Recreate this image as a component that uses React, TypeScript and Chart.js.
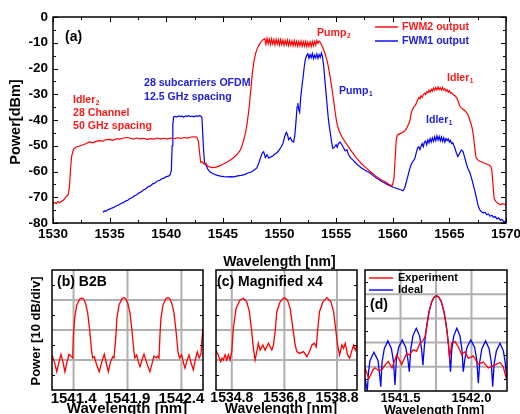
import React, { useEffect, useRef } from "react";
import { Chart, registerables } from "chart.js";
Chart.register(...registerables);

const FONT = '"Liberation Sans", Arial, Helvetica, sans-serif';
const RED = "#ff0000";
const BLUE = "#0000ff";
const RED_TXT = "#ff1a1a";
const BLUE_TXT = "#2121dd";
const GRID = "#b0b0b0";

// ---------------- data ----------------
const mainXTicks = [1530, 1535, 1540, 1545, 1550, 1555, 1560, 1565, 1570];
const mainYTicks = [0, -10, -20, -30, -40, -50, -60, -70, -80];

// FWM2 output (red), [wavelength nm, power dBm]
const fwm2Output: [number, number][] = [
  [1530.0, -72.5], [1530.15, -72.0], [1530.3, -72.4], [1530.45, -71.7], [1530.6, -72.1], [1530.75, -71.6],
  [1530.9, -71.2], [1531.05, -70.4], [1531.2, -69.6], [1531.35, -69.0], [1531.45, -66], [1531.55, -59],
  [1531.65, -54], [1531.8, -51.5], [1532.0, -50.6], [1532.3, -50.2], [1532.6, -49.7], [1532.9, -49.2],
  [1533.2, -48.5], [1533.5, -48.9], [1533.8, -48.3], [1534.1, -48.0], [1534.4, -48.2], [1534.7, -47.6],
  [1535.0, -47.5], [1535.3, -47.9], [1535.6, -47.3], [1535.9, -47.4], [1536.2, -47.1], [1536.5, -46.8],
  [1536.8, -47.0], [1537.1, -47.4], [1537.4, -47.0], [1537.7, -47.3], [1538.0, -47.1], [1538.3, -47.5],
  [1538.6, -47.2], [1538.9, -47.4], [1539.2, -47.0], [1539.5, -47.3], [1539.8, -47.1], [1540.1, -47.4],
  [1540.4, -47.0], [1540.7, -47.2], [1541.0, -46.9], [1541.3, -47.1], [1541.6, -46.8], [1541.9, -47.0],
  [1542.2, -46.6], [1542.5, -46.5], [1542.7, -46.7], [1542.85, -48.5], [1542.95, -53], [1543.05, -56.5],
  [1543.2, -56.2], [1543.35, -57.2], [1543.5, -56.8], [1543.65, -57.9], [1543.8, -58.2], [1544.1, -58.5],
  [1544.4, -58.3], [1544.7, -57.8], [1545.0, -57.2], [1545.3, -56.5], [1545.6, -55.7], [1545.9, -54.8],
  [1546.2, -53.6], [1546.5, -52.0], [1546.7, -50], [1546.85, -47.5], [1547.0, -45], [1547.15, -41],
  [1547.3, -36], [1547.45, -29], [1547.6, -22], [1547.75, -17], [1547.9, -14], [1548.05, -12],
  [1548.2, -10.8], [1548.35, -9.8], [1548.5, -9.0], [1548.6, -8.7],
  [1548.7, -8.4], [1548.8, -10.6], [1548.9, -8.3], [1549.0, -10.4], [1549.1, -8.6], [1549.2, -10.7],
  [1549.3, -8.5], [1549.4, -10.5], [1549.5, -8.8], [1549.6, -10.8], [1549.7, -8.7], [1549.8, -10.6],
  [1549.9, -8.9], [1550.0, -10.9], [1550.1, -8.8], [1550.2, -10.7], [1550.3, -9.0], [1550.4, -11.0],
  [1550.5, -9.1], [1550.6, -10.8], [1550.7, -9.0], [1550.8, -11.1], [1550.9, -9.2], [1551.0, -11.0],
  [1551.1, -9.3], [1551.2, -11.2], [1551.3, -9.2], [1551.4, -11.1], [1551.5, -9.4], [1551.6, -11.3],
  [1551.7, -9.5], [1551.8, -11.2], [1551.9, -9.4], [1552.0, -11.4], [1552.1, -9.6], [1552.2, -11.3],
  [1552.3, -9.5], [1552.4, -11.5], [1552.5, -9.7], [1552.6, -11.4], [1552.7, -9.6], [1552.8, -11.5],
  [1552.9, -9.5], [1553.0, -11.2], [1553.1, -9.4], [1553.2, -10.9], [1553.3, -9.1], [1553.4, -10.2],
  [1553.5, -9.3], [1553.6, -9.8], [1553.7, -10.8], [1553.8, -11.5], [1553.9, -12.8], [1554.0, -14],
  [1554.1, -15.5], [1554.2, -17], [1554.3, -19], [1554.4, -21.5], [1554.5, -24], [1554.6, -27],
  [1554.7, -30], [1554.8, -33], [1554.9, -36.5], [1555.0, -39.5], [1555.1, -42], [1555.25, -44],
  [1555.5, -46.5], [1555.75, -48.2], [1556.0, -49.8], [1556.25, -51.5], [1556.5, -53], [1556.75, -54.5],
  [1557.0, -55.8], [1557.25, -57], [1557.5, -58], [1557.75, -59], [1558.0, -60], [1558.25, -60.9],
  [1558.5, -61.8], [1558.75, -62.6], [1559.0, -63.3], [1559.25, -63.8], [1559.5, -64.5], [1559.75, -65.2],
  [1559.95, -65.6], [1560.1, -63], [1560.2, -56], [1560.3, -48], [1560.4, -45.8], [1560.6, -45.4],
  [1560.8, -45.0], [1561.0, -44.5], [1561.2, -43.5], [1561.35, -42], [1561.5, -40.5], [1561.6, -38],
  [1561.7, -36.3], [1561.85, -35], [1562.0, -34.3], [1562.1, -33.3], [1562.2, -32.2], [1562.3, -31.3],
  [1562.4, -31.8], [1562.5, -30.6], [1562.6, -31.2], [1562.7, -30.2], [1562.8, -29.6], [1562.9, -30.1],
  [1563.0, -29.0], [1563.1, -29.4], [1563.2, -28.4], [1563.3, -29.2], [1563.4, -28.1], [1563.5, -28.8],
  [1563.6, -27.6], [1563.7, -28.5], [1563.8, -27.4], [1563.9, -28.3], [1564.0, -27.2], [1564.1, -28.2],
  [1564.2, -27.5], [1564.3, -28.4], [1564.4, -27.3], [1564.5, -28.3], [1564.6, -27.9], [1564.7, -28.8],
  [1564.8, -28.2], [1564.9, -29.2], [1565.0, -28.6], [1565.1, -29.6], [1565.2, -29.3], [1565.35, -30.2],
  [1565.5, -30.6], [1565.65, -31.4], [1565.8, -33], [1565.9, -34.5], [1566.05, -35.3], [1566.2, -35.8],
  [1566.35, -36.3], [1566.5, -37], [1566.65, -38], [1566.8, -40], [1566.95, -42], [1567.05, -44],
  [1567.15, -47], [1567.25, -51], [1567.35, -54.5], [1567.5, -55.5], [1567.7, -56], [1567.9, -56.3],
  [1568.1, -56.8], [1568.3, -57.1], [1568.5, -57.5], [1568.65, -58], [1568.75, -59.5], [1568.85, -65],
  [1568.95, -70.5], [1569.1, -71.6], [1569.3, -72.3], [1569.5, -72.9], [1569.7, -72.5], [1569.85, -72.8],
  [1570.0, -72.6],
];

// FWM1 output (blue)
const fwm1Output: [number, number][] = [
  [1534.4, -75.8], [1534.55, -75.3], [1534.7, -75.4], [1534.85, -74.8], [1535.0, -74.6], [1535.2, -74.2],
  [1535.4, -73.9], [1535.6, -73.3], [1535.8, -73.0], [1536.0, -72.4], [1536.2, -72.1], [1536.4, -71.5],
  [1536.6, -71.2], [1536.8, -70.5], [1537.0, -70.1], [1537.2, -69.4], [1537.4, -69.0], [1537.6, -68.3],
  [1537.8, -67.9], [1538.0, -67.2], [1538.2, -66.7], [1538.4, -65.9], [1538.6, -65.6], [1538.8, -64.8],
  [1539.0, -64.5], [1539.2, -63.7], [1539.4, -63.5], [1539.6, -62.8], [1539.8, -62.6], [1540.0, -62.0],
  [1540.2, -61.8], [1540.35, -61.2], [1540.45, -59.5], [1540.52, -50], [1540.58, -42], [1540.65, -38.8],
  [1540.8, -38.6], [1540.95, -38.9], [1541.1, -38.4], [1541.25, -38.7], [1541.4, -38.5], [1541.55, -38.9],
  [1541.7, -38.4], [1541.85, -38.6], [1542.0, -38.3], [1542.15, -38.7], [1542.3, -38.5], [1542.45, -38.8],
  [1542.6, -38.4], [1542.75, -38.6], [1542.9, -38.3], [1543.05, -38.5], [1543.15, -39], [1543.22, -45],
  [1543.3, -52], [1543.38, -56.5], [1543.5, -57.5], [1543.7, -59.3], [1543.9, -60.3], [1544.2, -61.0],
  [1544.5, -61.5], [1544.8, -61.8], [1545.1, -62.0], [1545.4, -62.1], [1545.7, -62.0], [1546.0, -62.1],
  [1546.3, -61.7], [1546.6, -61.5], [1546.9, -61.2], [1547.2, -60.6], [1547.5, -60.2], [1547.8, -59.3],
  [1548.0, -58.6], [1548.15, -57], [1548.3, -55], [1548.45, -53], [1548.6, -52.3], [1548.75, -54.6],
  [1548.9, -53.5], [1549.05, -54.8], [1549.2, -54.4], [1549.4, -54.0], [1549.6, -53.2], [1549.8, -52.6],
  [1550.0, -51.5], [1550.15, -50.4], [1550.3, -49.2], [1550.45, -46.5], [1550.6, -44.8], [1550.7, -45.5],
  [1550.8, -47.6], [1550.95, -46.8], [1551.1, -48.2], [1551.25, -48.6], [1551.35, -46], [1551.45, -41],
  [1551.55, -35], [1551.62, -33.4], [1551.7, -36], [1551.78, -37], [1551.88, -31], [1551.98, -27],
  [1552.08, -23.5], [1552.18, -19.5], [1552.28, -16.5], [1552.4, -15.0], [1552.5, -14.3], [1552.6, -16.0],
  [1552.7, -14.6], [1552.8, -15.8], [1552.9, -14.2], [1553.0, -16.2], [1553.1, -14.8], [1553.2, -15.9],
  [1553.3, -14.4], [1553.4, -16.1], [1553.5, -14.6], [1553.6, -15.7], [1553.7, -14.0], [1553.8, -15.5],
  [1553.9, -19], [1554.0, -24], [1554.1, -29], [1554.2, -34], [1554.3, -39], [1554.4, -42.5],
  [1554.5, -45.5], [1554.6, -48.5], [1554.7, -51], [1554.8, -50.8], [1554.9, -50.2], [1555.0, -49.6],
  [1555.1, -50.6], [1555.2, -49.2], [1555.35, -48.6], [1555.5, -49.5], [1555.65, -50.8], [1555.8, -52],
  [1555.95, -51.5], [1556.1, -53.5], [1556.3, -54.8], [1556.5, -55.6], [1556.75, -56.8], [1557.0, -57.8],
  [1557.25, -58.6], [1557.5, -59.3], [1557.75, -60], [1558.0, -60.6], [1558.25, -61.5], [1558.5, -62.3],
  [1558.75, -63], [1559.0, -63.8], [1559.25, -64.4], [1559.5, -65], [1559.75, -65.5], [1560.0, -66],
  [1560.25, -66.4], [1560.5, -66.8], [1560.75, -67.2], [1560.9, -67.5], [1561.05, -66.5], [1561.2, -64],
  [1561.35, -61.5], [1561.5, -59], [1561.65, -57], [1561.8, -56], [1561.95, -55], [1562.1, -52.3],
  [1562.2, -50.8], [1562.3, -50.4], [1562.4, -51.5], [1562.5, -50.2], [1562.6, -49.2], [1562.7, -50.4],
  [1562.8, -48.6], [1562.9, -48.2], [1563.0, -49.6], [1563.1, -47.8], [1563.2, -48.9], [1563.3, -47.2],
  [1563.4, -48.5], [1563.5, -46.9], [1563.6, -48.3], [1563.7, -46.5], [1563.8, -48.0], [1563.9, -46.2],
  [1564.0, -47.8], [1564.1, -46.4], [1564.2, -48.1], [1564.3, -46.6], [1564.4, -48.3], [1564.5, -46.9],
  [1564.6, -48.6], [1564.7, -47.2], [1564.8, -48.0], [1564.9, -47.3], [1565.0, -48.6], [1565.1, -47.9],
  [1565.2, -49.2], [1565.3, -48.8], [1565.45, -50.5], [1565.6, -52.5], [1565.75, -54.2], [1565.9, -53],
  [1566.05, -51.6], [1566.2, -52.2], [1566.35, -54.5], [1566.5, -57], [1566.65, -59], [1566.8, -60.3],
  [1566.95, -62.5], [1567.1, -65], [1567.25, -67.5], [1567.4, -70.5], [1567.55, -73.5], [1567.7, -75],
  [1567.85, -75.6], [1568.0, -76.1], [1568.15, -75.8], [1568.3, -76.8], [1568.45, -76.5], [1568.6, -77.4],
  [1568.75, -77.0], [1568.9, -77.8], [1569.05, -77.5], [1569.2, -78.4], [1569.35, -78.0], [1569.5, -78.9],
  [1569.65, -78.6], [1569.8, -79.5], [1570.0, -79.3],
];

// (b) B2B
const b2bTicks = [1541.4, 1541.9, 1542.4];
const b2bSpectrum: [number, number][] = [
  [1541.2, -28.3], [1541.223, -30.7], [1541.244, -33.9], [1541.265, -30.7], [1541.283, -28.1], [1541.302, -30.7],
  [1541.32, -33.9], [1541.339, -30.7], [1541.358, -28.1], [1541.376, -28.7], [1541.392, -29.3], [1541.399, -21.7],
  [1541.41, -16], [1541.429, -11.7], [1541.457, -9.7], [1541.475, -9.3], [1541.494, -9.7], [1541.512, -11.3],
  [1541.531, -14.3], [1541.549, -20], [1541.568, -27.3], [1541.577, -29.3], [1541.592, -28.9], [1541.615, -31.7],
  [1541.638, -33.9], [1541.661, -30.7], [1541.685, -28.1], [1541.703, -31], [1541.722, -33.9], [1541.742, -30.7],
  [1541.763, -28.9], [1541.775, -29.3], [1541.784, -29.3], [1541.793, -21.7], [1541.802, -16], [1541.821, -11.7],
  [1541.849, -9.5], [1541.867, -9.2], [1541.886, -9.7], [1541.904, -11.3], [1541.923, -14.3], [1541.941, -20],
  [1541.96, -27.3], [1541.969, -29.3], [1541.985, -28.3], [1542.001, -30.7], [1542.016, -32.2], [1542.034, -30],
  [1542.053, -28], [1542.081, -31.3], [1542.108, -33.9], [1542.127, -31.3], [1542.145, -28.7], [1542.169, -29.3],
  [1542.182, -28.7], [1542.192, -29.3], [1542.201, -21.7], [1542.21, -16], [1542.229, -11.7], [1542.257, -9.5],
  [1542.275, -9.2], [1542.294, -9.7], [1542.312, -11.3], [1542.331, -14.3], [1542.349, -20], [1542.368, -27.3],
  [1542.382, -29.3], [1542.402, -28.3], [1542.417, -30.7], [1542.433, -32.7], [1542.451, -30.3], [1542.47, -28.3],
  [1542.49, -31], [1542.51, -33.3], [1542.528, -30], [1542.547, -27.3], [1542.565, -29.3], [1542.581, -28],
  [1542.59, -23.3], [1542.6, -19.3],
];

// (c) Magnified x4
const magTicks = [1534.8, 1536.8, 1538.8];
const magSpectrum: [number, number][] = [
  [1534.2, -26.7], [1534.25, -27.8], [1534.288, -28.3], [1534.33, -29.6], [1534.379, -30.6], [1534.43, -29.4],
  [1534.478, -30], [1534.543, -28.3], [1534.608, -30], [1534.669, -28.3], [1534.733, -30], [1534.798, -27.2],
  [1534.859, -19.4], [1534.962, -12.8], [1535.114, -10], [1535.24, -9.4], [1535.37, -10.6], [1535.469, -13.9],
  [1535.56, -20.6], [1535.621, -26.1], [1535.686, -30], [1535.75, -27.2], [1535.811, -24.4], [1535.876, -26.7],
  [1535.979, -25], [1536.067, -26.7], [1536.192, -24.4], [1536.322, -26.7], [1536.383, -25], [1536.448, -20.6],
  [1536.512, -13.9], [1536.638, -10.6], [1536.79, -9.2], [1536.916, -10], [1537.019, -12.8], [1537.122, -19.4],
  [1537.21, -25], [1537.274, -27.2], [1537.373, -27.8], [1537.526, -27.2], [1537.655, -28.9], [1537.754, -27.2],
  [1537.846, -25], [1537.933, -24.4], [1538.01, -25.6], [1538.059, -20.6], [1538.135, -13.9], [1538.265, -10.6],
  [1538.417, -9.2], [1538.57, -10.6], [1538.669, -13.9], [1538.745, -19.4], [1538.821, -25], [1538.897, -28.3],
  [1538.989, -25], [1539.05, -26.1], [1539.114, -24.4], [1539.202, -28.3], [1539.278, -29.4], [1539.37, -26.7],
  [1539.43, -25], [1539.495, -26.7], [1539.56, -25],
];

// (d) Experiment vs Ideal
const dTicks = [1541.5, 1541.75, 1542.0];
const dExperiment: [number, number][] = [
  [1541.25, -40.6], [1541.278, -44.8], [1541.306, -41.3], [1541.32, -40.4], [1541.345, -41.5], [1541.368, -41.3],
  [1541.391, -39.3], [1541.414, -37.8], [1541.44, -40.5], [1541.473, -35.1], [1541.496, -37.5], [1541.508, -39],
  [1541.544, -34.4], [1541.562, -35.1], [1541.59, -33], [1541.614, -33.5], [1541.637, -30.3], [1541.658, -29.3],
  [1541.673, -27.5], [1541.685, -23.4], [1541.701, -17.2], [1541.72, -13.1], [1541.736, -11.3], [1541.754, -10.6],
  [1541.771, -11.3], [1541.787, -13.1], [1541.806, -17.2], [1541.817, -21], [1541.827, -25], [1541.838, -31],
  [1541.846, -36.4], [1541.861, -30.2], [1541.884, -29.6], [1541.907, -31.7], [1541.931, -35], [1541.954, -33.8],
  [1541.977, -36.5], [1542.013, -35.5], [1542.048, -39], [1542.083, -38], [1542.118, -40.5], [1542.154, -39.5],
  [1542.201, -38.2], [1542.224, -40], [1542.248, -45.5],
];
const dIdeal: [number, number][] = [
  [1541.25, -44.6], [1541.266, -50], [1541.275, -42], [1541.285, -37.5], [1541.313, -34], [1541.342, -37.5],
  [1541.351, -42], [1541.361, -48.2], [1541.37, -38], [1541.386, -32.5], [1541.411, -29.3], [1541.436, -32.5],
  [1541.451, -38], [1541.461, -47.5], [1541.471, -37], [1541.487, -32], [1541.512, -28.9], [1541.537, -32],
  [1541.552, -37], [1541.562, -42], [1541.572, -33], [1541.587, -27.3], [1541.611, -24.1], [1541.635, -27.3],
  [1541.649, -33], [1541.658, -39.3], [1541.662, -36], [1541.669, -31], [1541.68, -25], [1541.69, -21],
  [1541.701, -17.2], [1541.72, -13.1], [1541.736, -11.3], [1541.754, -10.6], [1541.771, -11.3], [1541.787, -13.1],
  [1541.806, -17.2], [1541.817, -21], [1541.827, -25], [1541.838, -31], [1541.845, -36], [1541.852, -42],
  [1541.861, -33], [1541.875, -27.3], [1541.897, -24.1], [1541.919, -27.3], [1541.933, -33], [1541.942, -42],
  [1541.953, -37], [1541.968, -32], [1541.995, -28.9], [1542.022, -32], [1542.037, -37], [1542.048, -46.8],
  [1542.058, -38], [1542.073, -32.5], [1542.099, -29.3], [1542.124, -32.5], [1542.139, -38], [1542.149, -48.2],
  [1542.159, -39], [1542.175, -33.5], [1542.201, -30.3], [1542.225, -33.5], [1542.239, -39], [1542.248, -44.7],
];

// ---------------- drawing helpers ----------------
const font = (size: number) => `bold ${size}px ${FONT}`;

function text(ctx: any, s: string, x: number, y: number, color: string, size: number, sub?: string) {
  ctx.save();
  ctx.font = font(size);
  ctx.fillStyle = color;
  ctx.textAlign = "left";
  ctx.textBaseline = "middle";
  ctx.fillText(s, x, y);
  if (sub) {
    const w = ctx.measureText(s).width;
    ctx.font = font(size * 0.62);
    ctx.fillText(sub, x + w + 0.5, y + size * 0.32);
  }
  ctx.restore();
}

function ctext(ctx: any, s: string, x: number, y: number, size: number, rot = false) {
  ctx.save();
  ctx.translate(x, y);
  if (rot) ctx.rotate(-Math.PI / 2);
  ctx.font = font(size);
  ctx.fillStyle = "#000";
  ctx.textAlign = "center";
  ctx.textBaseline = "middle";
  ctx.fillText(s, 0, 0);
  ctx.restore();
}

function mids(arr: number[]) {
  const out: number[] = [];
  for (let i = 0; i < arr.length - 1; i++) out.push((arr[i] + arr[i + 1]) / 2);
  return out;
}

function frame(c: any, xMaj: number[], xMin: number[], yMaj: number[], yMin: number[], lw = 1.5) {
  const { ctx, chartArea: a, scales } = c;
  const sx = scales.x, sy = scales.y;
  ctx.save();
  ctx.strokeStyle = "#000";
  ctx.lineWidth = 1;
  ctx.beginPath();
  const tick = (vals: number[], len: number, horiz: boolean) => {
    for (const v of vals) {
      if (horiz) {
        const px = Math.round(sx.getPixelForValue(v)) + 0.5;
        ctx.moveTo(px, a.bottom); ctx.lineTo(px, a.bottom - len);
        ctx.moveTo(px, a.top); ctx.lineTo(px, a.top + len);
      } else {
        const py = Math.round(sy.getPixelForValue(v)) + 0.5;
        ctx.moveTo(a.left, py); ctx.lineTo(a.left + len, py);
        ctx.moveTo(a.right, py); ctx.lineTo(a.right - len, py);
      }
    }
  };
  tick(xMaj, 5, true);
  tick(xMin, 3, true);
  tick(yMaj, 5, false);
  tick(yMin, 3, false);
  ctx.stroke();
  ctx.lineWidth = lw;
  ctx.strokeRect(a.left, a.top, a.right - a.left, a.bottom - a.top);
  ctx.restore();
}

function grid(c: any, xs: number[], ys: number[]) {
  const { ctx, chartArea: a, scales } = c;
  ctx.save();
  ctx.strokeStyle = GRID;
  ctx.lineWidth = 2;
  ctx.beginPath();
  for (const v of xs) {
    const px = scales.x.getPixelForValue(v);
    ctx.moveTo(px, a.top); ctx.lineTo(px, a.bottom);
  }
  for (const v of ys) {
    const py = scales.y.getPixelForValue(v);
    ctx.moveTo(a.left, py); ctx.lineTo(a.right, py);
  }
  ctx.stroke();
  ctx.restore();
}

function legendLine(ctx: any, x1: number, x2: number, y: number, color: string) {
  ctx.save();
  ctx.strokeStyle = color;
  ctx.lineWidth = 1.4;
  ctx.beginPath();
  ctx.moveTo(x1, y); ctx.lineTo(x2, y);
  ctx.stroke();
  ctx.restore();
}

// ---------------- panel factory ----------------
type Spec = {
  area: { l: number; t: number; r: number; b: number };
  x: { min: number; max: number; ticks: number[]; fmt: (v: number) => string; size: number; pad: number };
  y: { min: number; max: number; ticks: number[] | null; size?: number };
  series: { data: [number, number][]; color: string; width: number }[];
  before?: (c: any) => void;
  after?: (c: any) => void;
};

function makePanel(canvas: HTMLCanvasElement, s: Spec) {
  const XH = 20;
  const YW = 40;
  const hasY = !!s.y.ticks;
  return new Chart(canvas, {
    type: "line",
    data: {
      datasets: s.series.map((d) => ({
        data: d.data.map(([x, y]) => ({ x, y })),
        borderColor: d.color,
        borderWidth: d.width,
        pointRadius: 0,
        tension: 0,
        fill: false,
      })),
    },
    options: {
      responsive: false,
      animation: false,
      events: [],
      layout: {
        padding: {
          left: s.area.l - (hasY ? YW : 0),
          top: s.area.t,
          right: 520 - s.area.r,
          bottom: 414 - s.area.b - XH,
        },
      },
      plugins: { legend: { display: false }, tooltip: { enabled: false }, title: { display: false } },
      scales: {
        x: {
          type: "linear",
          min: s.x.min,
          max: s.x.max,
          grid: { display: false, drawTicks: false },
          border: { display: false },
          afterBuildTicks: (sc: any) => {
            sc.ticks = s.x.ticks.map((v) => ({ value: v }));
          },
          afterFit: (sc: any) => {
            sc.height = XH;
            sc.paddingLeft = 0;
            sc.paddingRight = 0;
          },
          ticks: {
            autoSkip: false,
            maxRotation: 0,
            minRotation: 0,
            padding: s.x.pad,
            color: "#000",
            font: { family: FONT, size: s.x.size, weight: "bold" },
            callback: (v: any) => s.x.fmt(Number(v)),
          },
        },
        y: {
          type: "linear",
          display: hasY,
          min: s.y.min,
          max: s.y.max,
          grid: { display: false, drawTicks: false },
          border: { display: false },
          afterBuildTicks: (sc: any) => {
            if (s.y.ticks) sc.ticks = s.y.ticks.map((v) => ({ value: v }));
          },
          afterFit: (sc: any) => {
            sc.width = hasY ? YW : 0;
            sc.paddingTop = 0;
            sc.paddingBottom = 0;
          },
          ticks: {
            autoSkip: false,
            padding: 5,
            color: "#000",
            font: { family: FONT, size: s.y.size || 13, weight: "bold" },
            callback: (v: any) => String(v),
          },
        },
      },
    },
    plugins: [
      {
        id: "deco",
        beforeDatasetsDraw: (c: any) => s.before && s.before(c),
        afterDraw: (c: any) => s.after && s.after(c),
      },
    ],
  } as any);
}

// ---------------- specs ----------------
const mainSpec: Spec = {
  area: { l: 53, t: 17, r: 506, b: 223 },
  x: { min: 1530, max: 1570, ticks: mainXTicks, fmt: (v) => String(v), size: 13.5, pad: 3 },
  y: { min: -80, max: 0, ticks: mainYTicks, size: 13.5 },
  series: [
    { data: fwm2Output, color: RED, width: 1.2 },
    { data: fwm1Output, color: BLUE, width: 1.2 },
  ],
  after: (c) => {
    const ctx = c.ctx;
    frame(c, mainXTicks, mids(mainXTicks), mainYTicks, mids(mainYTicks));
    ctext(ctx, "Wavelength [nm]", 279.5, 262, 14);
    ctext(ctx, "Power[dBm]", 16, 122, 14.5, true);
    text(ctx, "(a)", 65, 37, "#000", 14);
    text(ctx, "Idler", 73, 100, RED_TXT, 10.6, "2");
    text(ctx, "28 Channel", 73, 113, RED_TXT, 10.6);
    text(ctx, "50 GHz spacing", 73, 126, RED_TXT, 10.6);
    text(ctx, "28 subcarriers OFDM", 144, 83, BLUE_TXT, 10.6);
    text(ctx, "12.5 GHz spacing", 144, 97, BLUE_TXT, 10.6);
    text(ctx, "Pump", 317, 33, RED_TXT, 10.6, "2");
    text(ctx, "Pump", 339, 91, BLUE_TXT, 10.6, "1");
    text(ctx, "Idler", 447, 78, RED_TXT, 10.6, "1");
    text(ctx, "Idler", 426, 120, BLUE_TXT, 10.6, "1");
    legendLine(ctx, 375, 398, 27, RED);
    text(ctx, "FWM2 output", 402, 27, RED_TXT, 10.6);
    legendLine(ctx, 375, 398, 41, BLUE);
    text(ctx, "FWM1 output", 402, 41, BLUE_TXT, 10.6);
  },
};

const bSpec: Spec = {
  area: { l: 52, t: 270, r: 203, b: 390 },
  x: { min: 1541.2, max: 1542.6, ticks: b2bTicks, fmt: (v) => v.toFixed(1), size: 15, pad: 0 },
  y: { min: -40, max: 0, ticks: null },
  series: [{ data: b2bSpectrum, color: RED, width: 1.3 }],
  before: (c) => grid(c, b2bTicks, [-10, -20, -30]),
  after: (c) => {
    const ctx = c.ctx;
    frame(c, [], [], [], [-5, -15, -25, -35]);
    text(ctx, "(b) B2B", 57, 282, "#000", 14);
    ctext(ctx, "Power [10 dB/div]", 36, 331, 13, true);
    ctext(ctx, "Wavelength [nm]", 127, 409, 15);
  },
};

const cSpec: Spec = {
  area: { l: 216, t: 270, r: 357, b: 390 },
  x: { min: 1534.2, max: 1539.56, ticks: magTicks, fmt: (v) => v.toFixed(1), size: 14, pad: 0 },
  y: { min: -40, max: 0, ticks: null },
  series: [{ data: magSpectrum, color: RED, width: 1.3 }],
  before: (c) => grid(c, magTicks, [-10, -20, -30]),
  after: (c) => {
    const ctx = c.ctx;
    frame(c, [], [], [], [-5, -15, -25, -35]);
    text(ctx, "(c) Magnified x4", 217, 282, "#000", 14);
    ctext(ctx, "Wavelength [nm]", 281, 409, 14);
  },
};

const dSpec: Spec = {
  area: { l: 365, t: 270, r: 507, b: 391 },
  x: {
    min: 1541.25,
    max: 1542.25,
    ticks: dTicks,
    fmt: (v) => (Math.abs(v - 1541.75) < 1e-6 ? "" : v.toFixed(1)),
    size: 13,
    pad: 0,
  },
  y: { min: -50, max: 0, ticks: null },
  series: [
    { data: dExperiment, color: RED, width: 1.3 },
    { data: dIdeal, color: BLUE, width: 1.3 },
  ],
  before: (c) => grid(c, dTicks, [-10, -20, -30, -40]),
  after: (c) => {
    const ctx = c.ctx;
    frame(c, [], [], [], [-5, -15, -25, -35, -45]);
    legendLine(ctx, 369, 393, 278, RED);
    text(ctx, "Experiment", 398, 278, "#000", 11);
    legendLine(ctx, 369, 393, 290, BLUE);
    text(ctx, "Ideal", 398, 290, "#000", 11);
    text(ctx, "(d)", 370, 305, "#000", 14);
    ctext(ctx, "Wavelength [nm]", 434, 411, 12.5);
  },
};

const SPECS = [mainSpec, bSpec, cSpec, dSpec];

export default function App() {
  const r0 = useRef<HTMLCanvasElement>(null);
  const r1 = useRef<HTMLCanvasElement>(null);
  const r2 = useRef<HTMLCanvasElement>(null);
  const r3 = useRef<HTMLCanvasElement>(null);
  const refs = [r0, r1, r2, r3];

  useEffect(() => {
    const charts = SPECS.map((s, i) => makePanel(refs[i].current as HTMLCanvasElement, s));
    return () => charts.forEach((ch) => ch.destroy());
  }, []);

  return (
    <div style={{ position: "absolute", left: 0, top: 0, width: 520, height: 414, background: "#fff", overflow: "hidden" }}>
      {refs.map((r, i) => (
        <canvas
          key={i}
          ref={r}
          width={520}
          height={414}
          style={{ position: "absolute", left: 0, top: 0, width: 520, height: 414 }}
        />
      ))}
    </div>
  );
}
